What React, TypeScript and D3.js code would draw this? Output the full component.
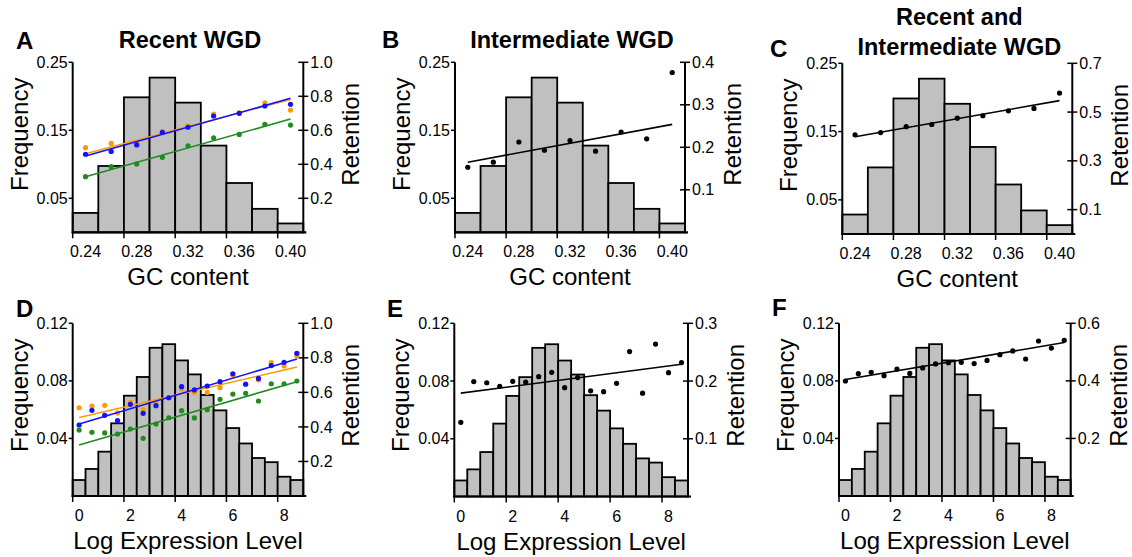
import React from "react";
import * as d3 from "d3";

// histogram bins (shared by the three panels of each row)
const gcBins = [0.24, 0.26, 0.28, 0.3, 0.32, 0.34, 0.36, 0.38, 0.4];
const gcFreq = [0.0285, 0.0975, 0.1985, 0.2275, 0.1907, 0.1275, 0.0725, 0.0345, 0.013];
const gcTickMarks = [0.23, 0.27, 0.31, 0.35, 0.39];
const gcTickLabels = [0.24, 0.28, 0.32, 0.36, 0.4];

const exprBins = [0, 0.5, 1, 1.5, 2, 2.5, 3, 3.5, 4, 4.5, 5, 5.5, 6, 6.5, 7, 7.5, 8, 8.5];
const exprFreq = [0.0111, 0.0188, 0.0308, 0.0505, 0.0697, 0.0827, 0.103, 0.1055, 0.0942, 0.0845, 0.0702, 0.0595, 0.0472, 0.0365, 0.0264, 0.0235, 0.0134, 0.0111];
const exprTickMarks = [-0.25, 1.75, 3.75, 5.75, 7.75];
const exprTickLabels = [0, 2, 4, 6, 8];

// retention per bin
const retGcRecentOrange = [0.498, 0.523, 0.52, 0.592, 0.626, 0.696, 0.702, 0.762, 0.719];
const retGcRecentBlue = [0.459, 0.476, 0.514, 0.588, 0.618, 0.684, 0.7, 0.743, 0.753];
const retGcRecentGreen = [0.327, 0.386, 0.402, 0.441, 0.509, 0.556, 0.576, 0.635, 0.631];
const retGcInter = [0.153, 0.165, 0.2125, 0.193, 0.216, 0.191, 0.236, 0.22, 0.376];
const retGcBoth = [0.407, 0.416, 0.44, 0.449, 0.475, 0.485, 0.505, 0.515, 0.578];

const retExprRecentOrange = [0.511, 0.521, 0.525, 0.481, 0.542, 0.5, 0.53, 0.57, 0.62, 0.6, 0.6, 0.627, 0.7, 0.65, 0.672, 0.772, 0.753, 0.812];
const retExprRecentBlue = [0.411, 0.496, 0.467, 0.436, 0.531, 0.479, 0.523, 0.569, 0.633, 0.614, 0.637, 0.662, 0.708, 0.647, 0.681, 0.755, 0.774, 0.826];
const retExprRecentGreen = [0.382, 0.369, 0.365, 0.359, 0.388, 0.334, 0.417, 0.453, 0.494, 0.452, 0.5, 0.56, 0.59, 0.595, 0.55, 0.65, 0.65, 0.666];
const retExprInter = [0.1285, 0.199, 0.197, 0.191, 0.1995, 0.198, 0.2075, 0.215, 0.1885, 0.206, 0.183, 0.1815, 0.196, 0.251, 0.179, 0.264, 0.2145, 0.232];
const retExprBoth = [0.3995, 0.425, 0.43, 0.418, 0.441, 0.426, 0.445, 0.459, 0.463, 0.4645, 0.46, 0.471, 0.491, 0.504, 0.476, 0.5385, 0.514, 0.541];

// fitted lines: retention at first and last bin
const fitGcRecent = [[0.462, 0.782], [0.449, 0.788], [0.327, 0.666]];
const fitGcInter = [0.165, 0.254];
const fitGcBoth = [0.399, 0.547];
const fitExprRecent = [[0.454, 0.747], [0.417, 0.793], [0.295, 0.662]];
const fitExprInter = [0.179, 0.229];
const fitExprBoth = [0.405, 0.533];

const ORANGE = "#ff9a00";
const BLUE = "#1212ff";
const GREEN = "#1f8c1f";
const FONT = "'Liberation Sans', Arial, Helvetica, sans-serif";

const gcRow = {
  bins: gcBins, freq: gcFreq, binW: 0.02, xDomain: [0.23, 0.41],
  tickMarks: gcTickMarks, tickLabels: gcTickLabels, fmtX: (d) => d.toFixed(2),
  yMax: 0.25, yTicks: [0.05, 0.15, 0.25], fmtY: (d) => d.toFixed(2), xTitle: "GC content",
};
const exprRow = {
  bins: exprBins, freq: exprFreq, binW: 0.5, xDomain: [-0.25, 8.75],
  tickMarks: exprTickMarks, tickLabels: exprTickLabels, fmtX: (d) => String(d),
  yMax: 0.12, yTicks: [0.04, 0.08, 0.12], fmtY: (d) => d.toFixed(2), xTitle: "Log Expression Level",
};

const panels = [
  { row: gcRow, letter: "A", lx: 16, ly: 49, title: ["Recent WGD"], titleY: [48], left: 72.7, top: 62.3, width: 230.6, height: 170,
    rMax: 1, rTicks: [0.2, 0.4, 0.6, 0.8, 1.0],
    series: [
      { values: retGcRecentOrange, fit: fitGcRecent[0], color: ORANGE },
      { values: retGcRecentBlue, fit: fitGcRecent[1], color: BLUE },
      { values: retGcRecentGreen, fit: fitGcRecent[2], color: GREEN },
    ] },
  { row: gcRow, letter: "B", lx: 382, ly: 48, title: ["Intermediate WGD"], titleY: [48], left: 455, top: 62.3, width: 230, height: 170,
    rMax: 0.4, rTicks: [0.1, 0.2, 0.3, 0.4],
    series: [{ values: retGcInter, fit: fitGcInter, color: "#000" }] },
  { row: gcRow, letter: "C", lx: 770, ly: 57, title: ["Recent and", "Intermediate WGD"], titleY: [25, 55], left: 842.3, top: 63.3, width: 230, height: 170.7,
    rMax: 0.7, rTicks: [0.1, 0.3, 0.5, 0.7],
    series: [{ values: retGcBoth, fit: fitGcBoth, color: "#000" }] },
  { row: exprRow, letter: "D", lx: 16, ly: 317, title: [], titleY: [], left: 72.7, top: 323.3, width: 230.6, height: 172.7,
    rMax: 1, rTicks: [0.2, 0.4, 0.6, 0.8, 1.0],
    series: [
      { values: retExprRecentOrange, fit: fitExprRecent[0], color: ORANGE },
      { values: retExprRecentBlue, fit: fitExprRecent[1], color: BLUE },
      { values: retExprRecentGreen, fit: fitExprRecent[2], color: GREEN },
    ] },
  { row: exprRow, letter: "E", lx: 387, ly: 317, title: [], titleY: [], left: 454.3, top: 323.3, width: 233.7, height: 173.2,
    rMax: 0.3, rTicks: [0.1, 0.2, 0.3],
    series: [{ values: retExprInter, fit: fitExprInter, color: "#000" }] },
  { row: exprRow, letter: "F", lx: 772, ly: 316, title: [], titleY: [], left: 839, top: 323.3, width: 231.7, height: 172.7,
    rMax: 0.6, rTicks: [0.2, 0.4, 0.6],
    series: [{ values: retExprBoth, fit: fitExprBoth, color: "#000" }] },
];

const Panel = ({ p }) => {
  const r = p.row;
  const x = d3.scaleLinear().domain(r.xDomain).range([p.left, p.left + p.width]);
  const y = d3.scaleLinear().domain([0, r.yMax]).range([p.top + p.height, p.top]);
  const yr = d3.scaleLinear().domain([0, p.rMax]).range([p.top + p.height, p.top]);
  const bottom = p.top + p.height;
  const right = p.left + p.width;
  const cx = p.left + p.width / 2;
  const labelY = p.top + 72;
  const line = d3.line().x((d) => x(d[0])).y((d) => yr(d[1]));
  const b0 = r.bins[0];
  const b1 = r.bins[r.bins.length - 1];

  return (
    <g fontFamily={FONT}>
      <text x={p.lx} y={p.ly} fontSize={24} fontWeight="bold">{p.letter}</text>
      {p.title.map((t, i) => (
        <text key={t} x={cx + 2} y={p.titleY[i]} fontSize={23.5} fontWeight="bold" textAnchor="middle">{t}</text>
      ))}
      {r.bins.map((b, i) => (
        <rect key={i} x={x(b - r.binW / 2)} y={y(r.freq[i])} width={x(b + r.binW / 2) - x(b - r.binW / 2)}
          height={bottom - y(r.freq[i])} fill="#c0c0c0" stroke="#000" strokeWidth={1.8} />
      ))}
      {/* axes */}
      <line x1={p.left} x2={p.left} y1={p.top} y2={bottom + 1} stroke="#000" strokeWidth={2} />
      <line x1={right} x2={right} y1={p.top} y2={bottom + 1} stroke="#000" strokeWidth={2} />
      <line x1={p.left - 1} x2={right + 3} y1={bottom} y2={bottom} stroke="#000" strokeWidth={2.2} />
      {r.yTicks.map((t) => (
        <g key={t}>
          <line x1={p.left - 4} x2={p.left} y1={y(t)} y2={y(t)} stroke="#000" strokeWidth={1.5} />
          <text x={p.left - 5} y={y(t)} dy="0.35em" fontSize={16} textAnchor="end">{r.fmtY(t)}</text>
        </g>
      ))}
      {p.rTicks.map((t) => (
        <g key={t}>
          <line x1={right - 5} x2={right + 5} y1={yr(t)} y2={yr(t)} stroke="#000" strokeWidth={1.5} />
          <text x={right + 7} y={yr(t)} dy="0.35em" fontSize={16}>{t.toFixed(1)}</text>
        </g>
      ))}
      {r.tickMarks.map((t) => (
        <line key={t} x1={x(t)} x2={x(t)} y1={bottom} y2={bottom + 6} stroke="#000" strokeWidth={1.5} />
      ))}
      {r.tickLabels.map((t) => (
        <text key={t} x={x(t)} y={bottom + 25} fontSize={16} textAnchor="middle">{r.fmtX(t)}</text>
      ))}
      <text x={cx} y={bottom + 53} fontSize={24} textAnchor="middle">{r.xTitle}</text>
      <text transform={`translate(${p.left - 45},${labelY}) rotate(-90)`} fontSize={24} textAnchor="middle">Frequency</text>
      <text transform={`translate(${right + 56},${labelY}) rotate(-90)`} fontSize={24} textAnchor="middle">Retention</text>
      {/* retention series */}
      {p.series.map((s, si) => (
        <g key={si}>
          <path d={line([[b0, s.fit[0]], [b1, s.fit[1]]])} stroke={s.color} strokeWidth={1.6} fill="none" />
          {s.values.map((v, i) => (
            <circle key={i} cx={x(r.bins[i])} cy={yr(v)} r={2.6} fill={s.color} />
          ))}
        </g>
      ))}
    </g>
  );
};

export default function App() {
  return (
    <svg width={1132} height={557} style={{ position: "absolute", left: 0, top: 0, background: "#fff" }}>
      <rect width={1132} height={557} fill="#fff" />
      {panels.map((p) => (
        <Panel key={p.letter} p={p} />
      ))}
    </svg>
  );
}
